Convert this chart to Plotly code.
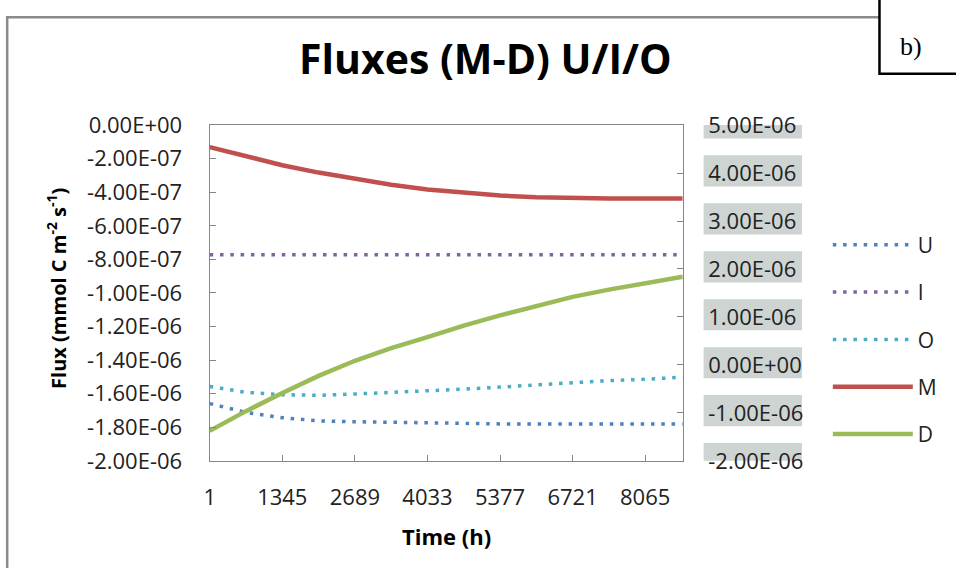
import plotly.graph_objects as go

W, H = 956, 582

# Time axis (hours) and series values
time_h = [1, 672, 1345, 2017, 2689, 3361, 4033, 4705, 5377, 6049, 6721, 7393, 8065, 8760]

flux_U = [-1.659e-6, -1.712e-6, -1.743e-6, -1.762e-6, -1.767e-6, -1.771e-6, -1.775e-6,
          -1.777e-6, -1.780e-6, -1.780e-6, -1.780e-6, -1.780e-6, -1.780e-6, -1.780e-6]
flux_I = [-7.73e-7] * 14
flux_O = [-1.557e-6, -1.592e-6, -1.606e-6, -1.610e-6, -1.602e-6, -1.594e-6, -1.586e-6,
          -1.573e-6, -1.561e-6, -1.547e-6, -1.533e-6, -1.522e-6, -1.514e-6, -1.502e-6]
flux_M = [-1.31e-7, -1.88e-7, -2.39e-7, -2.83e-7, -3.22e-7, -3.55e-7, -3.84e-7,
          -4.04e-7, -4.20e-7, -4.30e-7, -4.35e-7, -4.37e-7, -4.37e-7, -4.38e-7]
flux_D = [-1.376e-6, -0.964e-6, -0.586e-6, -0.229e-6, 0.086e-6, 0.350e-6, 0.580e-6,
          0.820e-6, 1.033e-6, 1.230e-6, 1.418e-6, 1.570e-6, 1.712e-6, 1.836e-6]

x_ticks = [1, 1345, 2689, 4033, 5377, 6721, 8065]

y_ticks = [0, -2e-7, -4e-7, -6e-7, -8e-7, -1e-6, -1.2e-6, -1.4e-6, -1.6e-6, -1.8e-6, -2e-6]
y_ticktext = ["0.00E+00", "-2.00E-07", "-4.00E-07", "-6.00E-07", "-8.00E-07", "-1.00E-06",
              "-1.20E-06", "-1.40E-06", "-1.60E-06", "-1.80E-06", "-2.00E-06"]

y2_ticks = [5e-6, 4e-6, 3e-6, 2e-6, 1e-6, 0, -1e-6, -2e-6]
y2_ticktext = ["5.00E-06", "4.00E-06", "3.00E-06", "2.00E-06", "1.00E-06", "0.00E+00",
               "-1.00E-06", "-2.00E-06"]

FONT = "Open Sans"
AX = "#868686"
DOT = "3.5px,6.8px"

fig = go.Figure()
fig.add_trace(go.Scatter(x=time_h, y=flux_U, name="U", mode="lines", legendgroup="U",
                         line=dict(color="#4F81BD", width=3.5, dash=DOT)))
fig.add_trace(go.Scatter(x=time_h, y=flux_I, name="I", mode="lines", legendgroup="I",
                         line=dict(color="#8064A2", width=3.5, dash=DOT)))
fig.add_trace(go.Scatter(x=time_h, y=flux_O, name="O", mode="lines", legendgroup="O",
                         line=dict(color="#4BACC6", width=3.5, dash=DOT)))
fig.add_trace(go.Scatter(x=time_h, y=flux_M, name="M", mode="lines", legendgroup="M",
                         line=dict(color="#C0504D", width=4.5)))
fig.add_trace(go.Scatter(x=time_h, y=flux_D, name="D", mode="lines", legendgroup="D",
                         yaxis="y2", line=dict(color="#9BBB59", width=4.5)))

px = lambda v: v / W
py = lambda v: 1 - v / H

tickfont = dict(family=FONT, size=22, color="#222222")

fig.update_layout(
    width=W, height=H,
    margin=dict(l=0, r=0, t=0, b=0),
    paper_bgcolor="white", plot_bgcolor="white",
    font=dict(family=FONT, color="#222222"),
    showlegend=True,
    legend=dict(x=px(827), y=py(220), xanchor="left", yanchor="top",
                font=dict(family=FONT, size=21, color="#222222"),
                tracegroupgap=17, itemwidth=80, bgcolor="rgba(0,0,0,0)"),
    xaxis=dict(domain=[px(205), px(681)], range=[1, 8760], tickvals=x_ticks,
               ticks="inside", ticklen=6, tickcolor=AX, showline=True, linecolor=AX,
               linewidth=1.3, mirror=True, showgrid=False, zeroline=False,
               tickfont=tickfont, ticklabelstandoff=17),
    yaxis=dict(domain=[py(469), py(115)], range=[-2e-6, 0], tickvals=y_ticks,
               ticktext=y_ticktext, ticks="inside", ticklen=6, tickcolor=AX,
               showline=True, linecolor=AX, linewidth=1.3, showgrid=False,
               zeroline=False, tickfont=tickfont, ticklabelstandoff=22),
    yaxis2=dict(overlaying="y", side="right", anchor="x", range=[-2e-6, 5e-6],
                tickvals=y2_ticks, ticktext=y2_ticktext, ticks="inside", ticklen=6,
                tickcolor=AX, showline=True, linecolor=AX, linewidth=1.3,
                showgrid=False, zeroline=False, tickfont=tickfont, ticklabelstandoff=20),
)

# Shaded backgrounds behind the secondary-axis labels
for v in y2_ticks:
    fig.add_shape(type="rect", xref="paper", yref="y2", layer="below",
                  x0=px(702), x1=px(801), y0=v - 0.28e-6, y1=v + 0.37e-6,
                  line=dict(width=0), fillcolor="#cdd4d2")

# Chart frame (left and top edges)
fig.add_shape(type="line", xref="paper", yref="paper", x0=px(1.2), x1=px(1.2), y0=0, y1=py(0),
              line=dict(color="#8a8a8a", width=2.5))
fig.add_shape(type="line", xref="paper", yref="paper", x0=px(0), x1=px(880), y0=py(1.2), y1=py(1.2),
              line=dict(color="#8a8a8a", width=2.5))

# Panel label box
fig.add_shape(type="rect", xref="paper", yref="paper", x0=px(879), x1=px(990),
              y0=py(61), y1=py(-20), line=dict(color="black", width=2.5), fillcolor="white")
fig.add_annotation(text="b)", xref="paper", yref="paper", x=px(911), y=py(32),
                   xanchor="center", yanchor="middle", showarrow=False,
                   font=dict(family="Liberation Serif", size=26, color="black"))

# Titles
fig.add_annotation(text="<b>Fluxes (M-D) U/I/O</b>", xref="paper", yref="paper",
                   x=px(483), y=py(44), xanchor="center", yanchor="middle", showarrow=False,
                   font=dict(family=FONT, size=41, color="black"))
fig.add_annotation(text="<b>Time (h)</b>", xref="paper", yref="paper",
                   x=px(443), y=py(548), xanchor="center", yanchor="middle", showarrow=False,
                   font=dict(family=FONT, size=22, color="black"))
fig.add_annotation(text="<b>Flux (mmol C m<sup>-2</sup> s<sup>-1</sup>)</b>", xref="paper",
                   yref="paper", x=px(51), y=py(287), xanchor="center", yanchor="middle",
                   textangle=-90, showarrow=False,
                   font=dict(family=FONT, size=20, color="black"))

fig.write_html("out.html")
